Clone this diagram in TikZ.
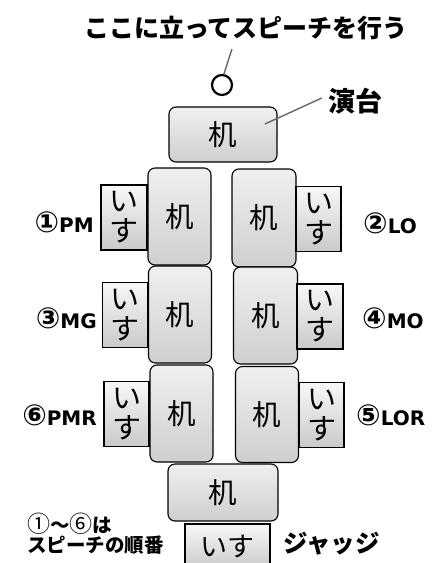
\documentclass[tikz,border=0pt]{standalone}
\usepackage{fontspec}
\setmainfont{Noto Sans CJK JP}
\newfontfamily\latbold{DejaVu Sans}
\usetikzlibrary{calc}
\newcommand{\circnum}[1]{{\fontsize{29}{29}\selectfont #1}}
\tikzset{
  desk/.style={draw=black, line width=1.1pt, rounded corners=7pt,
    top color=gray!12, bottom color=gray!38, inner sep=0pt,
    font=\fontsize{28.5}{28.5}\selectfont},
  chair/.style={draw=black, line width=1.1pt, top color=gray!6,
    bottom color=gray!42, inner sep=0pt, align=center,
    font=\fontsize{29}{30}\selectfont},
  lbl/.style={font=\latbold\bfseries\fontsize{20}{20}\selectfont, inner sep=0pt},
  leader/.style={draw=gray!80!black, line width=1.4pt},
}
\begin{document}
\begin{tikzpicture}[x=1pt, y=-1pt]
\useasboundingbox[fill=white] (0,0) rectangle (440,563);

% speaker's place and lectern
\node[font=\bfseries\fontsize{25}{25}\selectfont, inner sep=0pt] (title) at (246,28) {ここに立ってスピーチを行う};
\node[circle, draw=black, line width=2.2pt, minimum size=20pt, inner sep=0pt] (spot) at (222,85) {};
\draw[leader] (spot.80) -- ++(8,-25);
\node[desk, minimum width=108pt, minimum height=55pt] (lectern) at (223,134.5) {机};
\node[font=\bfseries\fontsize{27}{27}\selectfont, inner sep=0pt] (endai) at (355,101) {演台};
\coordinate (lecternpt) at (265,124);
\draw[leader] ($(endai.west)+(-6,-3)$) -- (lecternpt);

% left row of desks and chairs
\node[desk, minimum width=63pt, minimum height=97pt] (dl1) at (179.5,216.5) {机};
\node[desk, minimum width=63pt, minimum height=97pt] (dl2) at (180,314.5) {机};
\node[desk, minimum width=63pt, minimum height=97pt] (dl3) at (181.5,413.5) {机};
\node[chair, minimum width=46pt, minimum height=65pt] (cl1) at (124,217.5) {い\\す};
\node[chair, minimum width=45pt, minimum height=65pt] (cl2) at (125,315) {い\\す};
\node[chair, minimum width=45pt, minimum height=65pt] (cl3) at (126.5,414) {い\\す};

% right row of desks and chairs
\node[desk, minimum width=64pt, minimum height=98pt] (dr1) at (264,218) {机};
\node[desk, minimum width=64pt, minimum height=97pt] (dr2) at (265.5,315.5) {机};
\node[desk, minimum width=63pt, minimum height=96pt] (dr3) at (267,414.5) {机};
\node[chair, minimum width=45pt, minimum height=65pt] (cr1) at (318.5,219) {い\\す};
\node[chair, minimum width=46pt, minimum height=65pt] (cr2) at (320,316.5) {い\\す};
\node[chair, minimum width=45pt, minimum height=65pt] (cr3) at (321.5,415) {い\\す};

% speaker labels
\node[lbl, anchor=east] (s1) at (94,222) {\circnum{①}PM};
\node[lbl, anchor=east] (s3) at (97,318) {\circnum{③}MG};
\node[lbl, anchor=east] (s6) at (97,415) {\circnum{⑥}PMR};
\node[lbl, anchor=west] (s2) at (363,223) {\circnum{②}LO};
\node[lbl, anchor=west] (s4) at (362,318) {\circnum{④}MO};
\node[lbl, anchor=west] (s5) at (356,415) {\circnum{⑤}LOR};

% judge's desk and chair
\node[desk, minimum width=110pt, minimum height=57pt] (jdesk) at (223,492.5) {机};
\node[chair, minimum width=85pt, minimum height=46pt, font=\fontsize{27}{27}\selectfont] (jchair) at (227.5,547) {いす};
\node[font=\bfseries\fontsize{24.5}{24.5}\selectfont, inner sep=0pt, anchor=west] (judge) at (283,544) {ジャッジ};

% note on the order
\node[font=\bfseries\fontsize{19.5}{19.5}\selectfont, inner sep=0pt, anchor=west] (note1) at (27,524) {{\mdseries\fontsize{23}{23}\selectfont ①}～{\mdseries\fontsize{23}{23}\selectfont ⑥}は};
\node[font=\bfseries\fontsize{19.5}{19.5}\selectfont, inner sep=0pt, anchor=west] (note2) at (27,545) {スピーチの順番};
\end{tikzpicture}
\end{document}
